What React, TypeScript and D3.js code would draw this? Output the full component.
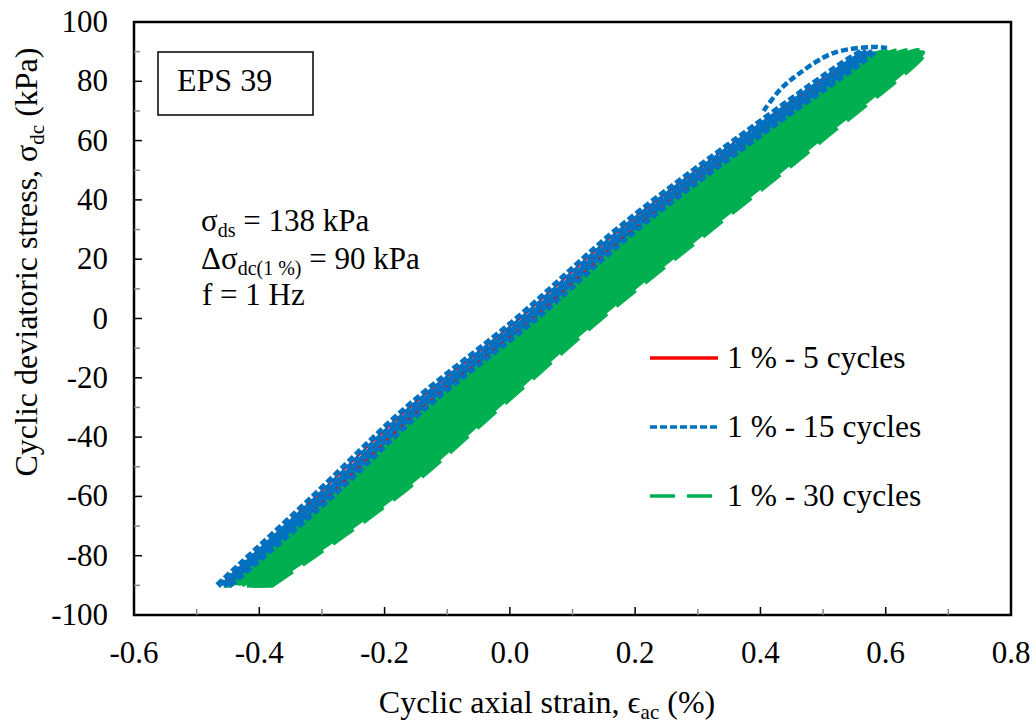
import * as d3 from "d3";

// tick values
const xTicks = [-0.6, -0.4, -0.2, 0.0, 0.2, 0.4, 0.6, 0.8];
const xMinorTicks = [-0.5, -0.3, -0.1, 0.1, 0.3, 0.5, 0.7];
const yTicks = [-100, -80, -60, -40, -20, 0, 20, 40, 60, 80, 100];
const yMinorTicks = [-90, -70, -50, -30, -10, 10, 30, 50, 70, 90];

const loopStress = [-90, -60, -30, 0, 30, 60, 90];

// 1 % - 30 cycles (green): strain on unloading (left) and loading (right) branches
const greenLeft = [
  [-0.448, -0.295, -0.146, 0.030, 0.190, 0.377, 0.580],
  [-0.436, -0.279, -0.127, 0.045, 0.209, 0.395, 0.596],
  [-0.424, -0.262, -0.109, 0.060, 0.228, 0.412, 0.612],
  [-0.412, -0.246, -0.090, 0.075, 0.247, 0.430, 0.627],
  [-0.400, -0.230, -0.071, 0.090, 0.266, 0.447, 0.643],
];
const greenRight = [
  [-0.428, -0.245, -0.091, 0.085, 0.245, 0.427, 0.600],
  [-0.416, -0.229, -0.072, 0.100, 0.264, 0.445, 0.616],
  [-0.404, -0.212, -0.054, 0.115, 0.283, 0.462, 0.632],
  [-0.392, -0.196, -0.035, 0.130, 0.302, 0.480, 0.647],
  [-0.380, -0.180, -0.016, 0.145, 0.321, 0.497, 0.663],
];

// 1 % - 15 cycles (blue)
const blueLeft = [
  [-0.468, -0.315, -0.166, 0.010, 0.170, 0.357, 0.560],
  [-0.459, -0.306, -0.157, 0.019, 0.179, 0.366, 0.569],
  [-0.450, -0.297, -0.148, 0.028, 0.188, 0.375, 0.578],
];
const blueRight = [
  [-0.464, -0.301, -0.151, 0.025, 0.185, 0.371, 0.564],
  [-0.455, -0.292, -0.142, 0.034, 0.194, 0.380, 0.573],
  [-0.446, -0.283, -0.133, 0.043, 0.203, 0.389, 0.582],
];
// first loading curve of the blue test (the dashes above the band)
const blueFirstStrain = [0.405, 0.431, 0.463, 0.516, 0.580, 0.602];
const blueFirstStress = [70.0, 77.1, 82.8, 89.5, 91.6, 91.2];

// 1 % - 5 cycles (red)
const redLeft = [
  [-0.462, -0.309, -0.160, 0.016, 0.176, 0.363, 0.566],
  [-0.456, -0.301, -0.152, 0.024, 0.184, 0.371, 0.574],
];
const redRight = [
  [-0.462, -0.299, -0.148, 0.028, 0.188, 0.373, 0.566],
  [-0.456, -0.291, -0.140, 0.036, 0.196, 0.381, 0.574],
];

const legendLabels = ["1 % - 5 cycles", "1 % - 15 cycles", "1 % - 30 cycles"];

const RED = "#FF0000";
const BLUE = "#0070C0";
const GREEN = "#00B050";
const FONT = "'Liberation Serif', 'Times New Roman', serif";

const x = d3.scaleLinear().domain([-0.6, 0.8]).range([134, 1011]);
const y = d3.scaleLinear().domain([-100, 100]).range([615, 22]);

const line = d3
  .line<[number, number]>()
  .x((d) => x(d[0]))
  .y((d) => y(d[1]))
  .curve(d3.curveCatmullRom.alpha(0.5));

// loading branch up the right side, unloading back down the left side
const makeLoop = (left: number[], right: number[]): [number, number][] => {
  const pts: [number, number][] = [];
  loopStress.forEach((s, i) => pts.push([right[i], s]));
  for (let i = loopStress.length - 1; i >= 0; i--) pts.push([left[i], loopStress[i]]);
  return pts;
};

const greenLoops = greenLeft.map((l, i) => makeLoop(l, greenRight[i]));
const blueLoops = blueLeft.map((l, i) => makeLoop(l, blueRight[i]));
const redLoops = redLeft.map((l, i) => makeLoop(l, redRight[i]));
const blueFirst: [number, number][] = blueFirstStrain.map((v, i) => [v, blueFirstStress[i]]);

const legendStyles = [
  { color: RED, dash: "none" },
  { color: BLUE, dash: "7,3" },
  { color: GREEN, dash: "25,12" },
];
const legendY = [358, 427, 496];

export default function App() {
  const [x0, x1] = x.range();
  const [y0, y1] = y.range();
  return (
    <svg
      width={1036}
      height={726}
      style={{ position: "absolute", left: 0, top: 0, background: "#fff" }}
      fontFamily={FONT}
    >
      {/* data */}
      <g>
        {greenLoops.map((pts, i) => (
          <path
            key={"g" + i}
            d={line(pts) + "Z"}
            fill={GREEN}
            stroke={GREEN}
            strokeWidth={5}
            strokeDasharray="25,12"
          />
        ))}
        {redLoops.map((pts, i) => (
          <path key={"r" + i} d={line(pts) + "Z"} fill="none" stroke={RED} strokeWidth={2} />
        ))}
        {blueLoops.map((pts, i) => (
          <path
            key={"b" + i}
            d={line(pts) + "Z"}
            fill="none"
            stroke={BLUE}
            strokeWidth={5}
            strokeDasharray="7,3"
          />
        ))}
        <path d={line(blueFirst) ?? ""} fill="none" stroke={BLUE} strokeWidth={4.5} strokeDasharray="7,3" />
      </g>

      {/* frame */}
      <rect x={x0} y={y1} width={x1 - x0} height={y0 - y1} fill="none" stroke="#000" strokeWidth={2.5} />

      {/* x ticks */}
      {xTicks.map((t) => (
        <g key={"xt" + t}>
          <line x1={x(t)} x2={x(t)} y1={y0} y2={y0 - 8} stroke="#000" strokeWidth={1.5} />
          <text x={x(t)} y={663} textAnchor="middle" fontSize={31}>
            {t.toFixed(1)}
          </text>
        </g>
      ))}
      {xMinorTicks.map((t) => (
        <line key={"xm" + t} x1={x(t)} x2={x(t)} y1={y0} y2={y0 - 6} stroke="#888" strokeWidth={1.5} />
      ))}

      {/* y ticks */}
      {yTicks.map((t) => (
        <g key={"yt" + t}>
          <line x1={x0} x2={x0 + 8} y1={y(t)} y2={y(t)} stroke="#000" strokeWidth={1.5} />
          <text x={108} y={y(t) + 10} textAnchor="end" fontSize={31}>
            {String(t)}
          </text>
        </g>
      ))}
      {yMinorTicks.map((t) => (
        <line key={"ym" + t} x1={x0} x2={x0 + 6} y1={y(t)} y2={y(t)} stroke="#888" strokeWidth={1.5} />
      ))}

      {/* axis titles */}
      <text x={547} y={713} textAnchor="middle" fontSize={32}>
        Cyclic axial strain, ϵ<tspan fontSize={21} dy={6}>ac</tspan>
        <tspan dy={-6}> (%)</tspan>
      </text>
      <text transform="translate(37,262) rotate(-90)" textAnchor="middle" fontSize={32}>
        Cyclic deviatoric stress, σ<tspan fontSize={21} dy={7}>dc</tspan>
        <tspan dy={-7}> (kPa)</tspan>
      </text>

      {/* EPS box */}
      <rect x={158} y={52} width={155} height={63} fill="#fff" stroke="#000" strokeWidth={1.5} />
      <text x={177} y={91} fontSize={32}>
        EPS 39
      </text>

      {/* test conditions */}
      <text x={201} y={231} fontSize={31}>
        σ<tspan fontSize={20} dy={6}>ds</tspan>
        <tspan dy={-6}> = 138 kPa</tspan>
      </text>
      <text x={201} y={269} fontSize={31}>
        Δσ<tspan fontSize={20} dy={6}>dc(1 %)</tspan>
        <tspan dy={-6}> = 90 kPa</tspan>
      </text>
      <text x={202} y={305} fontSize={31}>
        f = 1 Hz
      </text>

      {/* legend */}
      {legendLabels.map((lab, i) => (
        <g key={"lg" + i}>
          <line
            x1={650}
            x2={718}
            y1={legendY[i]}
            y2={legendY[i]}
            stroke={legendStyles[i].color}
            strokeWidth={3.5}
            strokeDasharray={legendStyles[i].dash}
          />
          <text x={727} y={legendY[i] + 10} fontSize={31.5}>
            {lab}
          </text>
        </g>
      ))}
    </svg>
  );
}
